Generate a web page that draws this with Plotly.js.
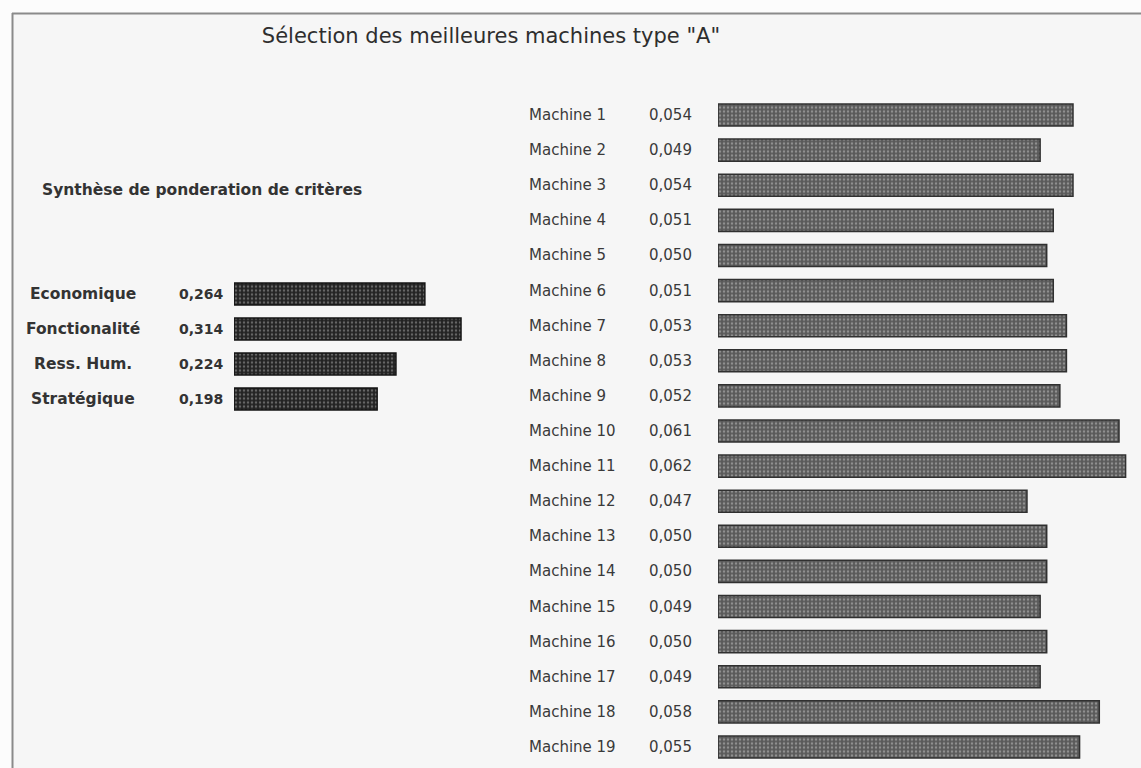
<!DOCTYPE html>
<html>
<head>
<meta charset="utf-8">
<script src="https://cdn.plot.ly/plotly-3.0.1.min.js"></script>
<style>html,body{margin:0;padding:0;background:#fcfcfc;}#chart{width:1141px;height:768px;}</style>
</head>
<body>
<div id="chart"></div>
<script>
// ---- data ----
const chartTitle = 'Sélection des meilleures machines type "A"';
const criteriaTitle = 'Synthèse de ponderation de critères';
const criteria = ['Economique', 'Fonctionalité', 'Ress. Hum.', 'Stratégique'];
const criteriaWeights = [0.264, 0.314, 0.224, 0.198];
const machines = ['Machine 1','Machine 2','Machine 3','Machine 4','Machine 5','Machine 6','Machine 7',
  'Machine 8','Machine 9','Machine 10','Machine 11','Machine 12','Machine 13','Machine 14',
  'Machine 15','Machine 16','Machine 17','Machine 18','Machine 19'];
const machineScores = [0.054,0.049,0.054,0.051,0.050,0.051,0.053,0.053,0.052,0.061,0.062,0.047,
  0.050,0.050,0.049,0.050,0.049,0.058,0.055];

// ---- helpers ----
const W = 1141, H = 768;
const px = v => v / W;
const py = v => 1 - v / H;
const fmt = v => v.toFixed(3).replace('.', ',');

const traces = [
  {
    type: 'bar', orientation: 'h', x: criteriaWeights, y: criteria,
    xaxis: 'x', yaxis: 'y', hoverinfo: 'skip',
    marker: {
      color: '#232323',
      line: {color: '#151515', width: 1.5},
      pattern: {shape: '.', fgcolor: '#666666', bgcolor: '#232323', size: 4, solidity: 0.3, fillmode: 'replace'}
    }
  },
  {
    type: 'bar', orientation: 'h', x: machineScores, y: machines,
    xaxis: 'x2', yaxis: 'y2', hoverinfo: 'skip',
    marker: {
      color: '#5a5a5a',
      line: {color: '#303030', width: 1.5},
      pattern: {shape: '.', fgcolor: '#909090', bgcolor: '#5a5a5a', size: 4, solidity: 0.3, fillmode: 'replace'}
    }
  }
];

const annotations = [];
annotations.push({xref: 'paper', yref: 'paper', x: px(202), y: py(190), xanchor: 'center', yanchor: 'middle',
  text: '<b>' + criteriaTitle + '</b>', showarrow: false,
  font: {family: 'DejaVu Sans', size: 15.5, color: '#333'}});
criteria.forEach((c, i) => {
  annotations.push({xref: 'paper', yref: 'y', x: px(83), y: c, xanchor: 'center', yanchor: 'middle',
    text: '<b>' + c + '</b>', showarrow: false, font: {family: 'DejaVu Sans', size: 15.5, color: '#333'}});
  annotations.push({xref: 'paper', yref: 'y', x: px(177), y: c, xanchor: 'left', yanchor: 'middle',
    text: '<b>' + fmt(criteriaWeights[i]) + '</b>', showarrow: false, font: {family: 'DejaVu Sans', size: 14, color: '#333'}});
});
machines.forEach((m, i) => {
  annotations.push({xref: 'paper', yref: 'y2', x: px(527), y: m, xanchor: 'left', yanchor: 'middle',
    text: m, showarrow: false, font: {family: 'DejaVu Sans', size: 15, color: '#3a3a3a'}});
  annotations.push({xref: 'paper', yref: 'y2', x: px(647), y: m, xanchor: 'left', yanchor: 'middle',
    text: fmt(machineScores[i]), showarrow: false, font: {family: 'DejaVu Sans', size: 15, color: '#3a3a3a'}});
});

const hiddenX = {showgrid: false, zeroline: false, showline: false, showticklabels: false, ticks: '', fixedrange: true};
const hiddenY = {type: 'category', showgrid: false, zeroline: false, showline: false, showticklabels: false, ticks: '', fixedrange: true};

const layout = {
  width: W, height: H,
  margin: {l: 0, r: 0, t: 0, b: 0, pad: 0},
  paper_bgcolor: '#fcfcfc',
  plot_bgcolor: 'rgba(0,0,0,0)',
  showlegend: false,
  bargap: 0.37,
  title: {text: chartTitle, x: px(491), xref: 'paper', xanchor: 'center', y: py(36), yref: 'paper', yanchor: 'middle',
    font: {family: 'DejaVu Sans', size: 21, color: '#2e2e2e'}},
  xaxis: Object.assign({}, hiddenX, {domain: [px(234), px(480)], range: [0, 246 / 723]}),
  yaxis: Object.assign({}, hiddenY, {domain: [py(416.5), py(276.5)], range: [criteria.length - 0.5, -0.5], anchor: 'x'}),
  xaxis2: Object.assign({}, hiddenX, {domain: [px(718), 1], range: [0, 423 / 6574], anchor: 'y2'}),
  yaxis2: Object.assign({}, hiddenY, {domain: [py(764.5), py(97.5)], range: [machines.length - 0.5, -0.5], anchor: 'x2'}),
  annotations: annotations,
  shapes: [
    {type: 'rect', xref: 'paper', yref: 'paper', x0: px(13), x1: 1, y0: 0, y1: py(14), fillcolor: '#f6f6f6', line: {width: 0}, layer: 'below'},
    {type: 'line', xref: 'paper', yref: 'paper', x0: px(12), x1: 1, y0: py(13.5), y1: py(13.5), line: {color: '#8a8a8a', width: 2}},
    {type: 'line', xref: 'paper', yref: 'paper', x0: px(12.5), x1: px(12.5), y0: 0, y1: py(13), line: {color: '#8a8a8a', width: 2}}
  ]
};

Plotly.newPlot('chart', traces, layout, {displayModeBar: false, staticPlot: true});
</script>
</body>
</html>
